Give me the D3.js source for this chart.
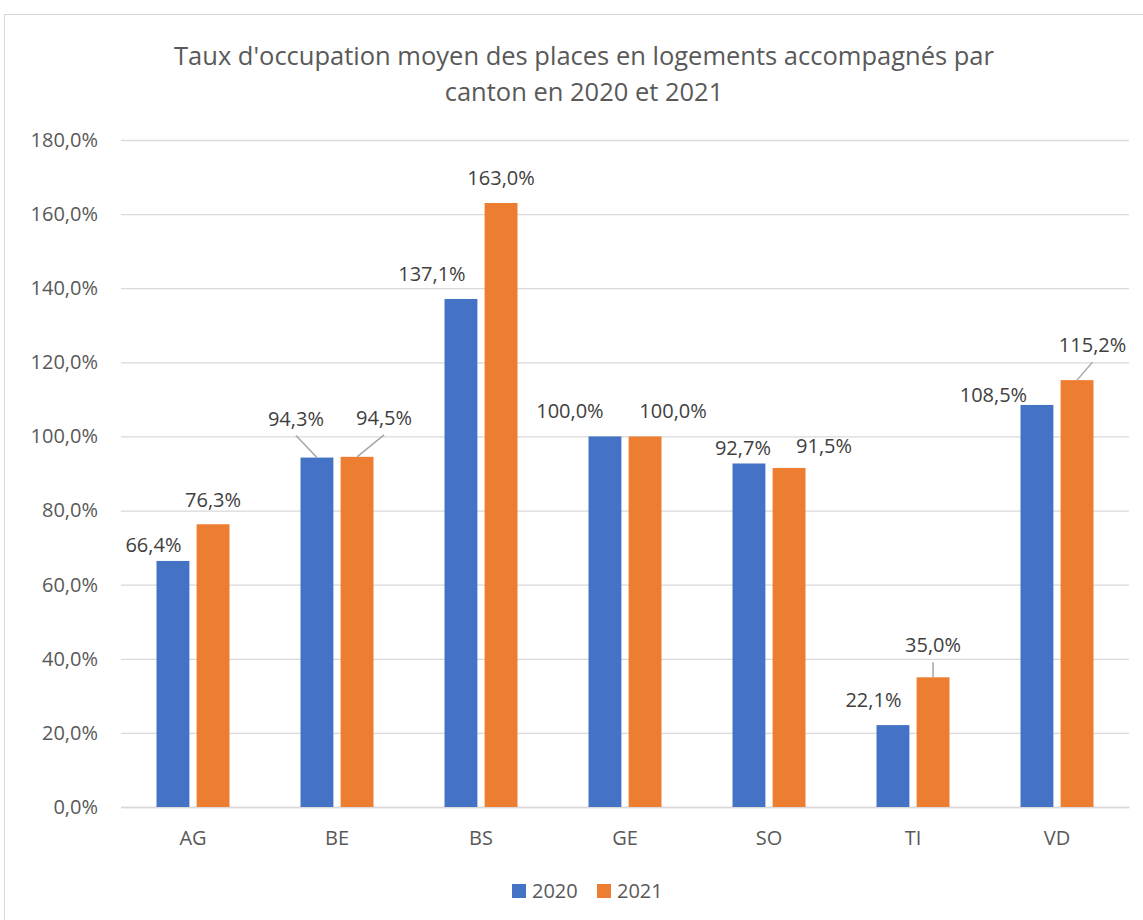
<!DOCTYPE html>
<html><head><meta charset="utf-8">
<script src="https://cdn.jsdelivr.net/npm/d3@7"></script>
<style>body{margin:0;background:#fff}</style>
</head><body><svg id="c" width="1143" height="920"></svg>
<script>
const categories = ["AG","BE","BS","GE","SO","TI","VD"];
const seriesNames = ["2020","2021"];
const values2020 = [66.4,94.3,137.1,100.0,92.7,22.1,108.5];
const values2021 = [76.3,94.5,163.0,100.0,91.5,35.0,115.2];
const yTicks = [0,20,40,60,80,100,120,140,160,180];
const titleLines = ["Taux d'occupation moyen des places en logements accompagnés par","canton en 2020 et 2021"];
// label placement: [dx from bar centre, baseline distance above bar top, leader line]
const labelOffsets2020 = [[-19.5,9,0],[-21,32,1],[-29,18,0],[-35,18,0],[-6,8,0],[-19.5,18,0],[-43.5,3,0]];
const labelOffsets2021 = [[0,17,0],[27,32,1],[0,18,0],[28,18,0],[35,15,0],[0,25,1],[15.5,28,1]];

const colors = ["#4472C4","#ED7D31"];
const svg = d3.select("#c");
const W=1143,H=920;
svg.append("rect").attr("x",4.5).attr("y",14.5).attr("width",W).attr("height",H).attr("fill","#fff").attr("stroke","#d9d9d9");

const m={left:121,right:1129,top:140,bottom:807};
const x=d3.scaleBand().domain(categories).range([m.left,m.right]);
const x1=d3.scaleBand().domain(seriesNames).range([x.bandwidth()/2-36.5, x.bandwidth()/2+36.5]).paddingInner(0.18);
const y=d3.scaleLinear().domain([0,180]).range([m.bottom,m.top]);

const font="'Open Sans', sans-serif";
svg.append("g").selectAll("text").data(titleLines).join("text")
  .attr("x",584).attr("y",(d,i)=>65+i*36).attr("text-anchor","middle")
  .attr("font-family",font).attr("font-size",25.5).attr("fill","#595959").text(d=>d);

const fmt=v=>d3.format(".1f")(v).replace(".",",")+"%";
const yAxis=svg.append("g").attr("transform",`translate(${m.left},0)`)
  .call(d3.axisLeft(y).tickValues(yTicks).tickSize(-(m.right-m.left)).tickFormat(fmt).tickPadding(23));
yAxis.select(".domain").remove();
yAxis.selectAll("line").attr("stroke","#d9d9d9").attr("stroke-width",1.3);
yAxis.selectAll("text").attr("font-family",font).attr("font-size",20).attr("fill","#595959");

const xAxis=svg.append("g").attr("transform",`translate(0,${m.bottom})`)
  .call(d3.axisBottom(x).tickSize(0).tickPadding(24));
xAxis.select(".domain").attr("stroke","#d9d9d9").attr("stroke-width",1.3);
xAxis.selectAll("text").attr("font-family",font).attr("font-size",20).attr("fill","#595959");

const series=[values2020,values2021];
const offs=[labelOffsets2020,labelOffsets2021];
series.forEach((vals,s)=>{
  const g=svg.append("g");
  const data=categories.map((c,i)=>({c,v:vals[i],o:offs[s][i]}));
  g.selectAll("rect").data(data).join("rect")
    .attr("x",d=>x(d.c)+x1(seriesNames[s])).attr("width",x1.bandwidth())
    .attr("y",d=>y(d.v)).attr("height",d=>y(0)-y(d.v)).attr("fill",colors[s]);
  data.forEach(d=>{
    const cx=x(d.c)+x1(seriesNames[s])+x1.bandwidth()/2;
    const top=y(d.v);
    const lx=cx+d.o[0], ly=top-d.o[1];
    if(d.o[2]){
      g.append("line").attr("x1",lx).attr("y1",ly+10).attr("x2",cx).attr("y2",top)
       .attr("stroke","#a6a6a6").attr("stroke-width",1.5);
    }
    g.append("text").attr("x",lx).attr("y",ly).attr("text-anchor","middle")
      .attr("font-family",font).attr("font-size",20).attr("fill","#404040").text(fmt(d.v));
  });
});

const leg=svg.append("g");
seriesNames.forEach((n,i)=>{
  const lx=512+i*85;
  leg.append("rect").attr("x",lx).attr("y",884).attr("width",14).attr("height",14).attr("fill",colors[i]);
  leg.append("text").attr("x",lx+20).attr("y",898).attr("font-family",font).attr("font-size",20).attr("fill","#595959").text(n);
});
</script></body></html>
